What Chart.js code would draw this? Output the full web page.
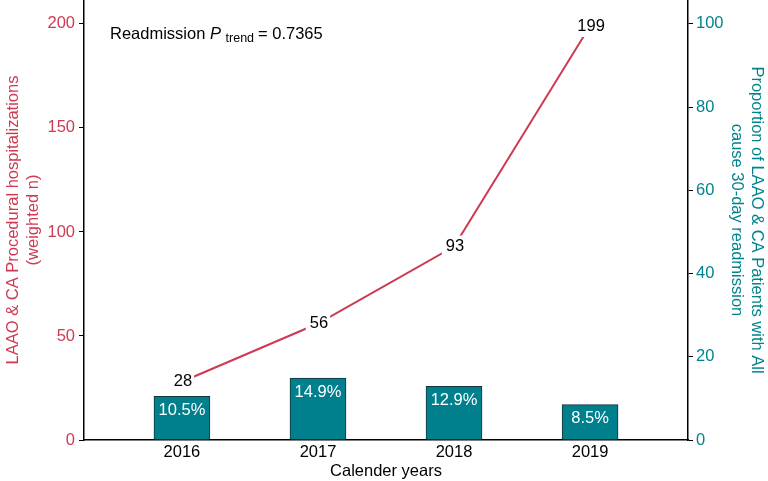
<!DOCTYPE html>
<html>
<head>
<meta charset="utf-8">
<script src="https://cdn.jsdelivr.net/npm/chart.js@4"></script>
<style>
  html, body { margin: 0; padding: 0; background: #fff; }
  #wrap { width: 768px; height: 481px; }
</style>
</head>
<body>
<div id="wrap"><canvas id="readmitChart" width="768" height="481"></canvas></div>
<script>
// values
const years = [2016, 2017, 2018, 2019];
const hospitalizations = [28, 56, 93, 199];
const readmissionPct = [10.5, 14.9, 12.9, 8.5];
const leftTicks = [0, 50, 100, 150, 200];
const rightTicks = [0, 20, 40, 60, 80, 100];

const RED = 'rgb(205,58,82)';
const TEAL = 'rgb(0,132,140)';
const FONT = "'Liberation Sans', Arial, sans-serif";

Chart.defaults.font.family = FONT;
Chart.defaults.font.size = 16.5;

const valueLabels = {
    id: 'valueLabels',
    afterDatasetsDraw(chart) {
        const c = chart.ctx;
        c.save();
        c.font = '16.5px ' + FONT;
        c.textAlign = 'center';
        c.textBaseline = 'middle';

        // percentages inside the bars
        chart.getDatasetMeta(0).data.forEach((bar, i) => {
            c.fillStyle = '#fff';
            c.fillText(readmissionPct[i].toFixed(1) + '%', bar.x, bar.y + 14);
        });

        // counts on the line, with a white patch behind
        chart.getDatasetMeta(1).data.forEach((pt, i) => {
            const txt = String(hospitalizations[i]);
            const w = c.measureText(txt).width + 6;
            c.fillStyle = '#fff';
            c.fillRect(pt.x - w / 2, pt.y - 11, w, 22);
            c.fillStyle = '#000';
            c.fillText(txt, pt.x + 1, pt.y);
        });

        // trend annotation
        c.textAlign = 'left';
        c.fillStyle = '#000';
        let x = 110;
        const y = 34;
        c.font = '16.5px ' + FONT;
        c.fillText('Readmission ', x, y);
        x += c.measureText('Readmission ').width;
        c.font = 'italic 16.5px ' + FONT;
        c.fillText('P', x, y);
        x += c.measureText('P ').width;
        c.font = '12.5px ' + FONT;
        c.fillText('trend', x, y + 5);
        x += c.measureText('trend').width + 4;
        c.font = '16.5px ' + FONT;
        c.fillText('= 0.7365', x, y);
        c.restore();
    }
};

function noPad(s) {
    s.paddingTop = 0;
    s.paddingBottom = 0;
}

const ctx = document.getElementById('readmitChart').getContext('2d');
const chart = new Chart(ctx, {
    data: {
        datasets: [{
                type: 'bar',
                label: 'Readmission %',
                data: years.map((yr, i) => ({ x: yr, y: readmissionPct[i] })),
                yAxisID: 'y1',
                backgroundColor: 'rgb(0,128,140)',
                borderColor: 'rgb(20,50,55)',
                borderWidth: 1,
                barThickness: 56,
            },
            {
                type: 'line',
                label: 'Hospitalizations',
                data: years.map((yr, i) => ({ x: yr, y: hospitalizations[i] })),
                yAxisID: 'y',
                borderColor: RED,
                borderWidth: 2,
                pointRadius: 0,
                tension: 0,
            },
        ]
    },
    options: {
        responsive: false,
        animation: false,
        layout: { padding: 0 },
        plugins: {
            legend: { display: false },
            tooltip: { enabled: false },
        },
        scales: {
            x: {
                type: 'linear',
                offset: false,
                min: 2015.28,
                max: 2019.72,
                afterBuildTicks: s => { s.ticks = years.map(v => ({ value: v })); },
                afterFit: s => { s.height = 41; s.paddingLeft = 0; s.paddingRight = 0; },
                grid: { display: false, drawTicks: false },
                border: { color: '#000', width: 1.5 },
                ticks: { color: '#000', padding: 3, callback: v => String(v) },
                title: { display: true, text: 'Calender years', color: '#000', padding: 0 },
            },
            y: {
                position: 'left',
                min: 0,
                max: 211.5,
                afterBuildTicks: s => { s.ticks = leftTicks.map(v => ({ value: v })); },
                afterFit: s => { s.width = 84; noPad(s); },
                grid: { drawOnChartArea: false, drawTicks: true, tickLength: 5, color: '#000' },
                border: { color: '#000', width: 1.5 },
                ticks: { color: RED, padding: 4 },
                title: {
                    display: true,
                    text: ['LAAO & CA Procedural hospitalizations', '(weighted n)'],
                    color: RED,
                    padding: 4,
                },
            },
            y1: {
                position: 'right',
                min: 0,
                max: 105.75,
                afterBuildTicks: s => { s.ticks = rightTicks.map(v => ({ value: v })); },
                afterFit: s => { s.width = 80; noPad(s); },
                grid: { drawOnChartArea: false, drawTicks: true, tickLength: 5, color: '#000' },
                border: { color: '#000', width: 1.5 },
                ticks: { color: TEAL, padding: 3 },
                title: {
                    display: true,
                    text: ['Proportion of LAAO & CA Patients with All', 'cause 30-day readmission'],
                    color: TEAL,
                    padding: 2,
                },
            },
        }
    },
    plugins: [valueLabels]
});
</script>
</body>
</html>
